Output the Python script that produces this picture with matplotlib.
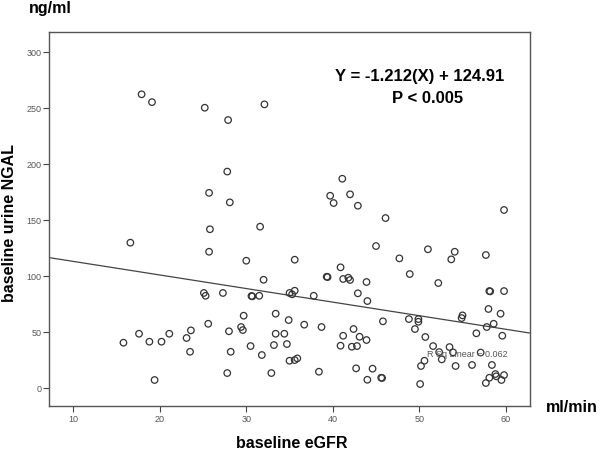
import matplotlib
matplotlib.use("Agg")
import matplotlib.pyplot as plt
import numpy as np

plt.rcParams['font.family'] = ['Liberation Sans', 'DejaVu Sans']

# baseline eGFR (ml/min) and baseline urine NGAL (ng/ml)
egfr = [17.9, 19.1, 25.2, 27.9, 32.1, 27.8, 25.7, 28.1, 25.8, 31.6,
        41.1, 39.7, 40.1, 42.0, 42.9, 46.1, 59.8, 16.6, 25.7, 30.0,
        35.6, 32.0, 25.1, 25.3, 27.3, 30.6, 30.7, 31.5, 35.0, 35.3,
        35.6, 33.4, 29.7, 34.9, 25.6, 15.8, 17.6, 18.8, 20.2, 21.1,
        23.1, 23.6, 23.5, 19.4, 28.0, 28.2, 29.4, 29.6, 30.5, 31.8,
        27.8, 32.9, 33.4, 34.4, 33.2, 34.7, 35.0, 35.6, 35.9, 40.9,
        39.3, 39.4, 41.2, 41.8, 42.0, 43.9, 42.9, 44.0, 37.8, 36.7,
        38.7, 42.4, 41.2, 43.1, 43.9, 40.9, 42.2, 42.8, 38.4, 42.7,
        44.0, 45.0, 51.0, 47.7, 54.1, 53.7, 57.7, 48.9, 52.2, 58.1,
        58.2, 59.8, 58.0, 59.4, 55.0, 54.9, 48.8, 49.9, 49.9, 45.8,
        49.5, 50.7, 56.6, 57.8, 58.6, 59.6, 51.6, 53.5, 52.6, 52.3,
        53.9, 50.6, 50.2, 54.2, 56.1, 58.4, 57.1, 50.1, 44.6, 45.6,
        45.7, 57.7, 58.1, 58.8, 58.9, 59.5, 59.8]
ngal = [262, 255, 250, 239, 253, 193, 174, 165.5, 141.5, 143.8,
        186.6, 171.4, 164.9, 172.7, 162.5, 151.5, 158.7, 129.5, 121.4, 113.4,
        114.3, 96.4, 84.6, 82.1, 84.6, 81.9, 81.6, 82.1, 84.6, 83.4,
        86.6, 66.1, 64.3, 60.4, 57.1, 40.2, 48.2, 41.1, 41.1, 48.2,
        44.4, 51.2, 32.1, 6.9, 50.4, 32.1, 54.2, 51.5, 37.2, 29.2,
        13.1, 13.1, 48.2, 48.2, 38.1, 39.0, 24.1, 24.7, 26.2, 107.5,
        99.1, 98.8, 97.1, 98.2, 96.2, 94.4, 84.3, 77.4, 82.1, 56.3,
        54.2, 52.4, 46.4, 45.5, 42.6, 37.5, 36.6, 37.2, 14.3, 17.3,
        7.1, 126.5, 123.6, 115.5, 121.4, 114.6, 118.5, 101.5, 93.5, 86.3,
        86.0, 86.3, 70.3, 66.1, 64.6, 62.2, 61.3, 61.3, 58.9, 59.3,
        52.4, 45.3, 48.6, 54.2, 57.1, 46.4, 37.2, 36.3, 25.3, 31.8,
        31.6, 24.1, 19.4, 19.4, 20.3, 20.3, 31.4, 3.3, 17.0, 8.9,
        8.7, 4.2, 8.9, 12.2, 10.2, 6.9, 11.3]

slope = -1.212
intercept = 124.91
r_sq = 0.062

x_ticks = [10, 20, 30, 40, 50, 60]
y_ticks = [0, 50, 100, 150, 200, 250, 300]

fig = plt.figure(figsize=(6, 4.52), dpi=100)
ax = fig.add_axes([0.0822, 0.0996, 0.8011, 0.8281])

ax.scatter(egfr, ngal, s=22, facecolors='none', edgecolors='#333333',
           linewidths=0.9, zorder=3)

xmin, xmax = 7.23, 62.8
xl = np.array([xmin, xmax])
ax.plot(xl, slope * xl + intercept, color='#444444', linewidth=0.9, zorder=2)

ax.set_xlim(xmin, xmax)
ax.set_ylim(-16.3, 317.9)
ax.set_xticks(x_ticks)
ax.set_yticks(y_ticks)
ax.tick_params(labelsize=6.5, labelcolor='#555555', color='#444444',
               length=4, width=0.8, pad=1.5)
for s in ax.spines.values():
    s.set_color('#555555')
    s.set_linewidth(1.0)

ax.text(50.0, 279, 'Y = -1.212(X) + 124.91', fontsize=12, fontweight='bold',
        ha='center', va='center')
ax.text(51.0, 259, 'P < 0.005', fontsize=12, fontweight='bold',
        ha='center', va='center')
ax.text(50.85, 30.7, 'R Sq Linear = %.3f' % r_sq, fontsize=6.5, color='#555555',
        ha='left', va='center')

fig.text(292 / 600, 1 - 444 / 452, 'baseline eGFR', fontsize=11.5,
         fontweight='bold', ha='center', va='center')
fig.text(572 / 600, 1 - 408 / 452, 'ml/min', fontsize=11.5,
         fontweight='bold', ha='center', va='center')
fig.text(50 / 600, 1 - 9 / 452, 'ng/ml', fontsize=11.5,
         fontweight='bold', ha='center', va='center')
fig.text(10 / 600, 1 - 223 / 452, 'baseline urine NGAL', fontsize=11.5,
         fontweight='bold', ha='center', va='center', rotation=90)

fig.savefig('out.png', dpi=100)
